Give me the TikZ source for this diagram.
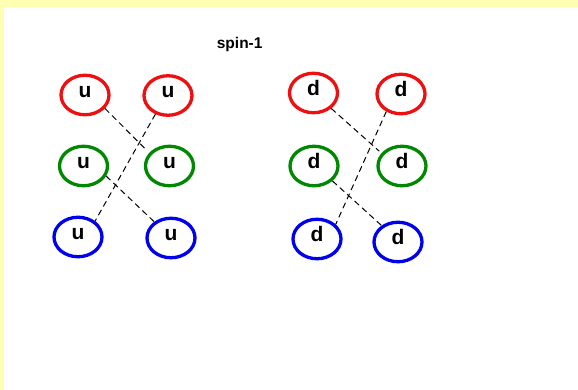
\documentclass[tikz,border=0pt]{standalone}
\usepackage{fontspec}
\setmainfont{Liberation Sans}
\usetikzlibrary{shapes.geometric}

\definecolor{qred}{RGB}{238,16,16}
\definecolor{qgreen}{RGB}{0,136,0}
\definecolor{qblue}{RGB}{0,0,238}
\definecolor{frameyellow}{RGB}{255,255,178}

\tikzset{
  quark/.style={ellipse, draw=#1, line width=3.3pt, inner sep=0pt,
    minimum width=48pt, minimum height=39.5pt,
    text height=9pt, text depth=4pt,
    font=\bfseries\fontsize{21}{22}\selectfont},
  pairing/.style={line width=1pt, dash pattern=on 6pt off 4pt},
  heading/.style={font=\bfseries\fontsize{15.5}{17}\selectfont, inner sep=0pt, anchor=base}
}

\begin{document}
\begin{tikzpicture}[x=1pt, y=-1pt]
  % page and frame
  \useasboundingbox (0,0) rectangle (578,390);
  \fill[white] (0,0) rectangle (578,390);
  \fill[frameyellow] (0,0) rectangle (578,7);
  \fill[frameyellow] (0,0) rectangle (4,390);

  \node[heading] (title) at (239.7,48.3) {spin-1};

  % up quarks
  \node[quark=qred]   (u1) at (85,95)    {u};
  \node[quark=qred]   (u2) at (168,95.5) {u};
  \node[quark=qgreen] (u3) at (83.5,166) {u};
  \node[quark=qgreen] (u4) at (169.5,166){u};
  \node[quark=qblue]  (u5) at (78,237)   {u};
  \node[quark=qblue]  (u6) at (171,238)  {u};

  % down quarks
  \node[quark=qred]   (d1) at (313.5,93) {d};
  \node[quark=qred]   (d2) at (401,94)   {d};
  \node[quark=qgreen] (d3) at (314,166)  {d};
  \node[quark=qgreen] (d4) at (402,166)  {d};
  \node[quark=qblue]  (d5) at (317,239)  {d};
  \node[quark=qblue]  (d6) at (398,242)  {d};

  % colour pairings
  \draw[pairing, shorten >=3pt] (u1.-34.6) -- (u4.147.4);
  \draw[pairing] (u2.-124.9) -- (u5.43.5);
  \draw[pairing] (u3.-24.2) -- (u6.136.4);

  \draw[pairing, shorten >=3pt] (d1.-41.1) -- (d4.148.8);
  \draw[pairing] (d2.-130.1) -- (d5.38.3);
  \draw[pairing] (d3.-39.6) -- (d6.135);
\end{tikzpicture}
\end{document}
